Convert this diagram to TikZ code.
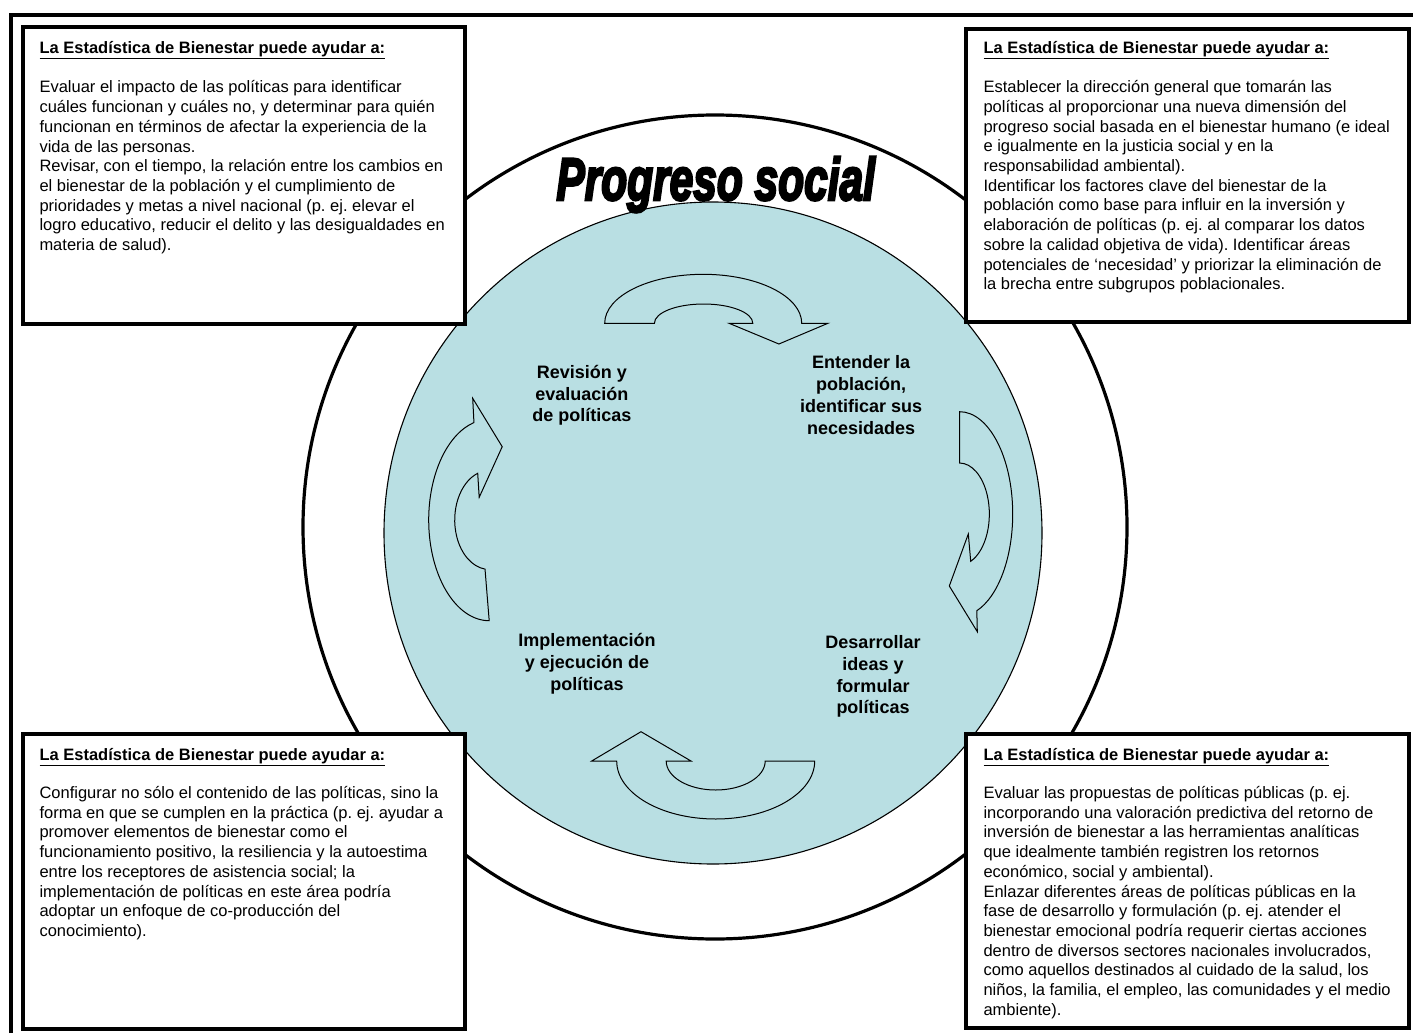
\documentclass[tikz,border=0pt]{standalone}
\usepackage{fontspec}
\setmainfont{Liberation Sans}
\newfontfamily\wafont[FakeBold=4.5]{Liberation Sans}
\usepackage{graphicx}
\frenchspacing
\definecolor{cyc}{RGB}{185,223,227}
\tikzset{
  frameline/.style={line width=3.5pt},
  infobox/.style={draw, line width=3.8pt, fill=white, rectangle, inner sep=0pt},
  boxtext/.style={anchor=north west, align=left, inner sep=0pt, font=\fontsize{16.5}{19.7}\selectfont},
  cyclabel/.style={anchor=north, align=center, inner sep=0pt, font=\fontsize{18}{21.8}\selectfont\bfseries},
  curvarrow/.style={draw, line width=1pt, fill=cyc, line join=miter},
  ring/.style={draw, line width=3.2pt},
  core/.style={draw, line width=1.1pt, fill=cyc},
}
% first line carries an invisible 18pt (box text) or 20pt (labels) strut,
% so the node's north lies exactly that far above the first baseline
\newcommand{\boxhead}{\rule{0pt}{18pt}\underline{\textbf{La Estadística de Bienestar puede ayudar a:}}}
\newcommand{\lstrut}{\rule{0pt}{20pt}}
\begin{document}
\begin{tikzpicture}[x=1pt,y=-1pt]
\useasboundingbox (0,0) rectangle (1413,1033);
\fill[white] (0,0) rectangle (1413,1033);

% circles
\draw[ring] (715,527) circle[radius=412];
\draw[core] (713,533) ellipse[x radius=329, y radius=331];

% curved arrows
\draw[curvarrow] (604.7,323.3) arc[start angle=180, end angle=360, x radius=98.5, y radius=49]
  -- (827.9,323.3) -- (778.9,344) -- (729.1,323.3) -- (752.8,323.3)
  arc[start angle=0, end angle=-180, x radius=49.2, y radius=19.3] -- cycle;
\draw[curvarrow] (616.7,761) arc[start angle=180, end angle=0, x radius=99, y radius=58]
  -- (765.2,761) arc[start angle=0, end angle=180, x radius=49.5, y radius=29]
  -- (691,761) -- (641,731.7) -- (591.7,761) -- cycle;
\draw[curvarrow] (489.2,620.7) arc[start angle=90, end angle=255.4, x radius=60.5, y radius=100.7]
  -- (472.7,398.3) -- (502.2,446.7) -- (479.2,497.3) -- (477.7,473.3)
  arc[start angle=250.5, end angle=97, x radius=34.5, y radius=49.5] -- cycle;
\draw[curvarrow] (959.5,411.7) arc[start angle=-90, end angle=71, x radius=53.2, y radius=102.3]
  -- (977.3,631.7) -- (949.3,586) -- (968.3,534) -- (970.7,561.3)
  arc[start angle=68, end angle=-90, x radius=29.8, y radius=51] -- cycle;

% cycle labels (first baselines at y = 378.1, 368.5, 646.7, 648.3)
\node[cyclabel] (rev) at (581.8,358.1) {\lstrut Revisión y\\evaluación\\de políticas};
\node[cyclabel] (ent) at (861.2,348.5) {\lstrut Entender la\\población,\\identificar sus\\necesidades};
\node[cyclabel] (imp) at (587,626.7) {\lstrut Implementación\\y ejecución de\\políticas};
\node[cyclabel] (des) at (873,628.3) {\lstrut Desarrollar\\ideas y\\formular\\políticas};

% title
\node[anchor=base, inner sep=0pt] (title) at (715.7,200)
  {\scalebox{0.745}[1.05]{\fontsize{57}{60}\selectfont\wafont\bfseries\itshape Progreso social}};

% info boxes
\node[infobox, minimum width=442.6pt, minimum height=296.5pt] (tl) at (244,175.45) {};
\node[infobox, minimum width=442.4pt, minimum height=293.3pt] (tr) at (1187.5,175.35) {};
\node[infobox, minimum width=442.6pt, minimum height=294.9pt] (bl) at (244,881.25) {};
\node[infobox, minimum width=442.4pt, minimum height=294.2pt] (br) at (1187.5,880.9) {};

% box texts (first baselines at y = 53.3 and 760)
\node[boxtext] (tltext) at (39.3,35.3) {\boxhead\\[19.7pt]
Evaluar el impacto de las políticas para identificar\\
cuáles funcionan y cuáles no, y determinar para quién\\
funcionan en términos de afectar la experiencia de la\\
vida de las personas.\\
Revisar, con el tiempo, la relación entre los cambios en\\
el bienestar de la población y el cumplimiento de\\
prioridades y metas a nivel nacional (p. ej. elevar el\\
logro educativo, reducir el delito y las desigualdades en\\
materia de salud).};

\node[boxtext] (trtext) at (983.3,35.3) {\boxhead\\[19.5pt]
Establecer la dirección general que tomarán las\\
políticas al proporcionar una nueva dimensión del\\
progreso social basada en el bienestar humano (e ideal\\
e igualmente en la justicia social y en la\\
responsabilidad ambiental).\\
Identificar los factores clave del bienestar de la\\
población como base para influir en la inversión y\\
elaboración de políticas (p. ej. al comparar los datos\\
sobre la calidad objetiva de vida). Identificar áreas\\
potenciales de ‘necesidad’ y priorizar la eliminación de\\
la brecha entre subgrupos poblacionales.};

\node[boxtext] (bltext) at (39.3,742) {\boxhead\\[18.6pt]
Configurar no sólo el contenido de las políticas, sino la\\
forma en que se cumplen en la práctica (p. ej. ayudar a\\
promover elementos de bienestar como el\\
funcionamiento positivo, la resiliencia y la autoestima\\
entre los receptores de asistencia social; la\\
implementación de políticas en este área podría\\
adoptar un enfoque de co-producción del\\
conocimiento).};

\node[boxtext] (brtext) at (983.3,742) {\boxhead\\[18.6pt]
Evaluar las propuestas de políticas públicas (p. ej.\\
incorporando una valoración predictiva del retorno de\\
inversión de bienestar a las herramientas analíticas\\
que idealmente también registren los retornos\\
económico, social y ambiental).\\
Enlazar diferentes áreas de políticas públicas en la\\
fase de desarrollo y formulación (p. ej. atender el\\
bienestar emocional podría requerir ciertas acciones\\
dentro de diversos sectores nacionales involucrados,\\
como aquellos destinados al cuidado de la salud, los\\
niños, la familia, el empleo, las comunidades y el medio\\
ambiente).};

% outer frame
\draw[frameline] (11,1033) -- (11,15) -- (1413,15);
\end{tikzpicture}
\end{document}
